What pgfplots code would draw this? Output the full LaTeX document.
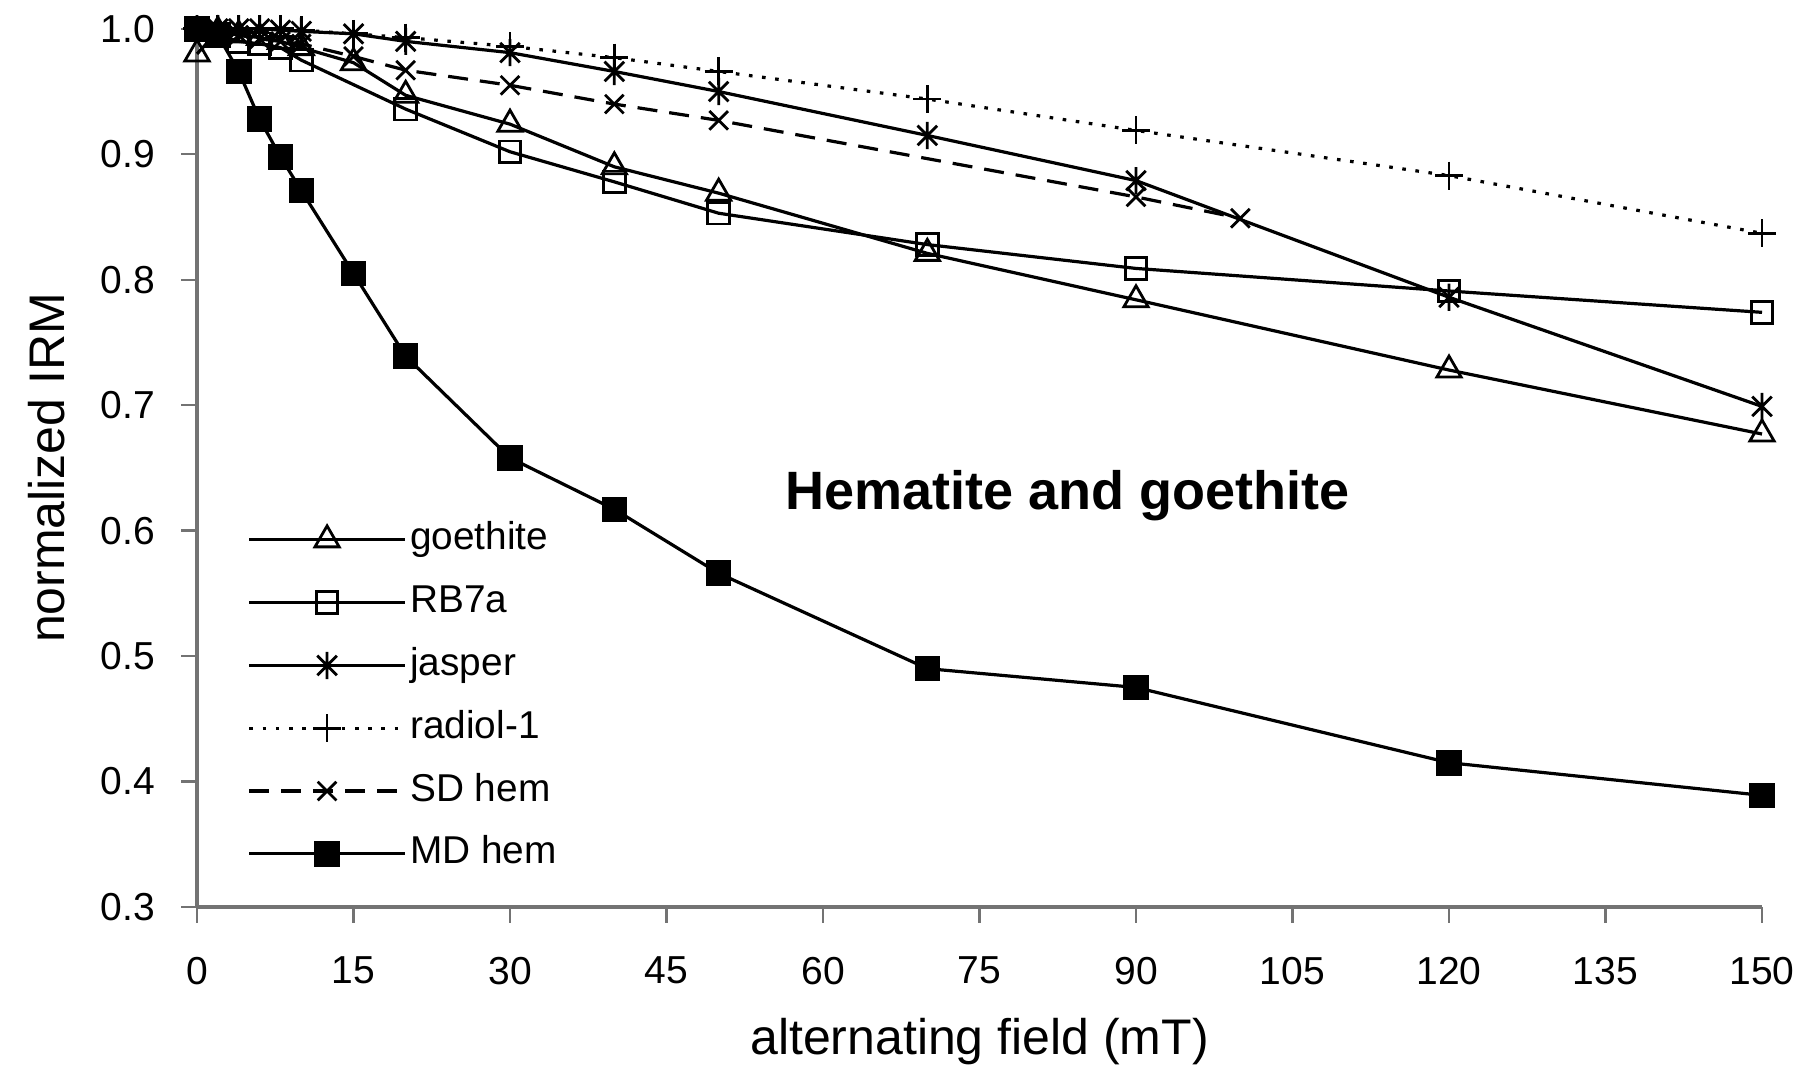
\documentclass[border=0pt]{standalone}
\usepackage{fontspec}
\setmainfont{Liberation Sans}
\usepackage{pgfplots}
\pgfplotsset{compat=1.18}
\pgfdeclareplotmark{xstar}{%
  \pgfpathmoveto{\pgfqpoint{0pt}{\pgfplotmarksize}}%
  \pgfpathlineto{\pgfqpoint{0pt}{-\pgfplotmarksize}}%
  \pgfpathmoveto{\pgfqpoint{-.72\pgfplotmarksize}{.72\pgfplotmarksize}}%
  \pgfpathlineto{\pgfqpoint{.72\pgfplotmarksize}{-.72\pgfplotmarksize}}%
  \pgfpathmoveto{\pgfqpoint{-.72\pgfplotmarksize}{-.72\pgfplotmarksize}}%
  \pgfpathlineto{\pgfqpoint{.72\pgfplotmarksize}{.72\pgfplotmarksize}}%
  \pgfusepathqstroke}
\begin{document}
\begin{tikzpicture}
\path[use as bounding box] (-49.25pt,-45pt) rectangle (402pt,226.75pt);
\begin{axis}[
  at={(0,0)}, anchor=south west,
  scale only axis, width=391.25pt, height=219.55pt,
  xmin=0, xmax=150, ymin=0.3, ymax=1.0,
  axis x line=bottom, axis y line=left,
  axis line style={-, draw=black!55, line width=1pt},
  xtick={0,15,...,150}, ytick={0.3,0.4,...,1.0},
  tick align=outside, major tick length=4pt,
  tick style={draw=black!55, line width=0.6pt},
  /pgf/number format/assume math mode=true,
  ticklabel style={font=\fontsize{9.75}{11}\selectfont},
  xticklabel style={yshift=-5pt},
  yticklabel style={xshift=-3pt, /pgf/number format/.cd, fixed, fixed zerofill, precision=1},
  xlabel={alternating field (mT)},
  ylabel={normalized IRM},
  label style={font=\fontsize{12.5}{15}\selectfont},
  xlabel style={at={(axis description cs:0.5,-0.1537)}, anchor=center},
  ylabel style={at={(axis description cs:-0.0958,0.5)}, anchor=center},
  clip=false,
  legend cell align=left,
  legend style={draw=none, fill=none, at={(rel axis cs:0.032,0.444)}, anchor=north west,
    inner sep=0pt, row sep=4.7pt, column sep=0pt,
    font=\fontsize{9.7}{11}\selectfont,
    nodes={inner sep=1pt, text height=7pt, text depth=2pt}},
  legend image code/.code={\draw[mark repeat=2,mark phase=2,#1] plot coordinates {(0pt,0pt) (19.4pt,0pt) (38.8pt,0pt)};},
  every axis plot/.append style={black, line width=0.8pt, mark options={solid, line width=0.7pt}},
]
% goethite
\addplot[mark=triangle, mark size=3.5pt] coordinates {
(0,0.980) (2,0.998) (4,0.995) (6,0.993) (8,0.990) (10,0.985) (15,0.973) (20,0.947)
(30,0.924) (40,0.890) (50,0.869) (70,0.821) (90,0.784) (120,0.728) (150,0.677)};
\addlegendentry{goethite}
% RB7a
\addplot[mark=square, mark size=2.7pt] coordinates {
(0,1.000) (2,0.995) (4,0.990) (6,0.988) (8,0.985) (10,0.975) (20,0.936)
(30,0.902) (40,0.878) (50,0.853) (70,0.828) (90,0.809) (120,0.791) (150,0.774)};
\addlegendentry{RB7a}
% jasper
\addplot[mark=xstar, mark size=3.4pt] coordinates {
(0,1.000) (2,1.000) (4,1.000) (6,1.000) (8,0.999) (10,0.998) (15,0.996) (20,0.990)
(30,0.981) (40,0.966) (50,0.950) (70,0.915) (90,0.879) (120,0.786) (150,0.699)};
\addlegendentry{jasper}
% radiol-1
\addplot[dash pattern=on 0.9pt off 2.4pt, mark=+, mark size=3.5pt] coordinates {
(0,1.000) (2,1.000) (4,1.000) (6,1.000) (8,1.000) (10,0.999) (15,0.996) (20,0.993)
(30,0.986) (40,0.977) (50,0.966) (70,0.944) (90,0.919) (120,0.883) (150,0.837)};
\addlegendentry{radiol-1}
% SD hem
\addplot[dash pattern=on 5pt off 3pt, mark=x, mark size=3.3pt] coordinates {
(0,1.000) (2,0.998) (4,0.995) (6,0.992) (8,0.990) (10,0.988) (15,0.978) (20,0.967)
(30,0.955) (40,0.940) (50,0.927) (90,0.866) (100,0.849)};
\addlegendentry{SD hem}
% MD hem
\addplot[mark=square*, mark size=2.8pt, mark options={fill=black}] coordinates {
(0,1.000) (2,0.995) (4,0.966) (6,0.928) (8,0.898) (10,0.871) (15,0.805) (20,0.739)
(30,0.658) (40,0.617) (50,0.566) (70,0.490) (90,0.475) (120,0.415) (150,0.389)};
\addlegendentry{MD hem}
\node[font=\bfseries\fontsize{13.5}{16}\selectfont] at (axis cs:83.4,0.628) {Hematite and goethite};
\end{axis}
\end{tikzpicture}
\end{document}
